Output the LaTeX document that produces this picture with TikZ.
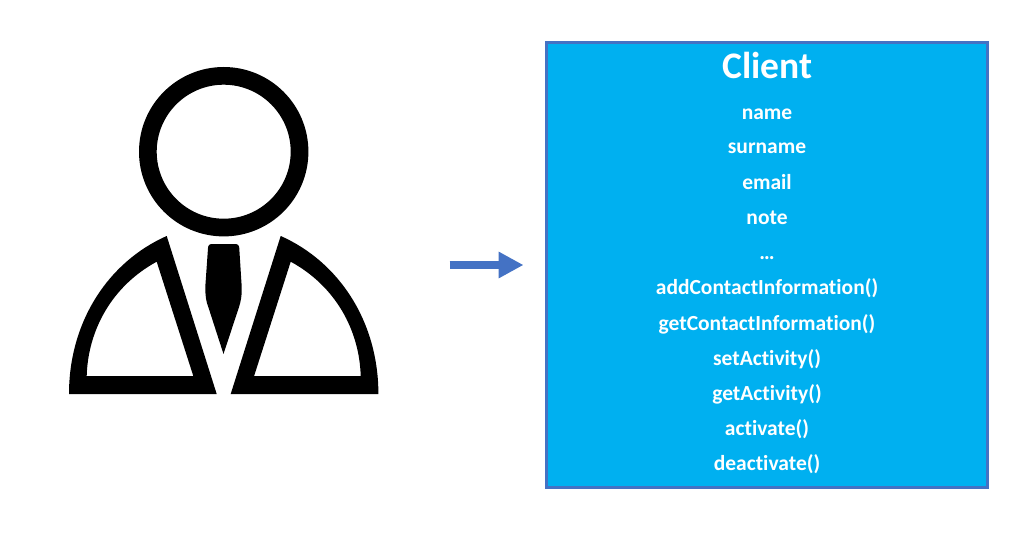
\documentclass[tikz,border=0pt]{standalone}
\usepackage{fontspec}
\setmainfont[Ligatures=NoCommon]{Carlito}
\usetikzlibrary{arrows.meta}
\definecolor{boxblue}{HTML}{00B0F0}
\definecolor{edgeblue}{HTML}{4472C4}
\tikzset{
  classbox/.style={draw=edgeblue,fill=boxblue,line width=3pt,outer sep=0pt,minimum width=441pt,minimum height=445pt,inner sep=0pt,anchor=north west},
  classtitle/.style={text=white,font=\fontsize{37.5}{38}\selectfont\bfseries,anchor=base,inner sep=0pt},
  member/.style={text=white,font=\fontsize{21.5}{22}\selectfont\bfseries,anchor=base,inner sep=0pt},
  flow/.style={draw=edgeblue,line width=8.6pt,-{Triangle[length=25pt,width=25pt]}},
  icon/.style={fill=black,even odd rule,draw=none}
}
\begin{document}
\begin{tikzpicture}[x=1pt,y=-1pt]
\useasboundingbox (0,0) rectangle (1024,540);
\fill[white] (0,0) rectangle (1024,540);
% person icon
\fill[icon] (223.7,151.7) circle[radius=84.7] (223.7,151.7) circle[radius=67];
\fill[icon] (69,394) .. controls (69,322) and (108,262) .. (166.7,236) -- (216.7,394) -- cycle
  (86.7,376) .. controls (88,330) and (112,286) .. (156.7,261.7) -- (193.3,376) -- cycle;
\fill[icon] (378.4,394) .. controls (378.4,322) and (339.4,262) .. (280.7,236) -- (230.7,394) -- cycle
  (360.7,376) .. controls (359.4,330) and (335.4,286) .. (290.7,261.7) -- (254.1,376) -- cycle;
\fill[icon,rounded corners=3pt] (208.3,244) -- (239,244) -- (241.7,286.7) [sharp corners] .. controls (241.7,296) and (241,301) .. (239,307) -- (223.5,354) -- (208.3,307) .. controls (206,301) and (205.3,296) .. (205.3,286.7) [rounded corners=3pt] -- cycle;
% class box
\node[classbox] (box) at (546.5,42.5) {};
\node[classtitle] (title) at (767.3,79) {Client};
\node[member] (m1) at (767,119.4) {name};
\node[member] (m2) at (767,153.6) {surname};
\node[member] (m3) at (767,189.4) {email};
\node[member] (m4) at (767,224.5) {note};
\node[member] (m5) at (767,259.6) {…};
\node[member] (m6) at (767,294.6) {addContactInformation()};
\node[member] (m7) at (767,330.6) {getContactInformation()};
\node[member] (m8) at (767,365.6) {setActivity()};
\node[member] (m9) at (767,400.6) {getActivity()};
\node[member] (m10) at (767,435.6) {activate()};
\node[member] (m11) at (767,470.6) {deactivate()};
% arrow
\coordinate (from) at (449.7,265);
\coordinate (to) at (523.5,265);
\draw[flow] (from) -- (to);
\end{tikzpicture}
\end{document}
